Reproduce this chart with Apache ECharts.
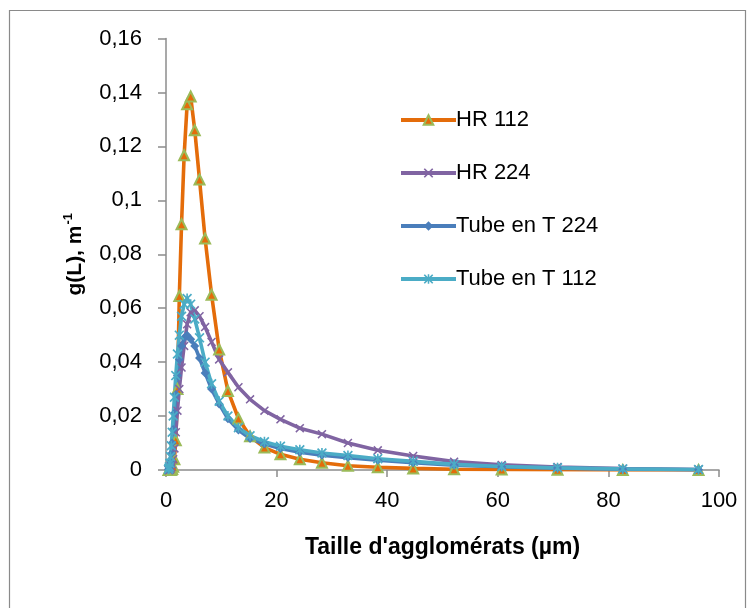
<!DOCTYPE html>
<html><head><meta charset="utf-8">
<script src="https://cdn.jsdelivr.net/npm/echarts@6/dist/echarts.min.js"></script>
<style>html,body{margin:0;padding:0;background:#fff}#c{width:753px;height:608px}</style>
</head><body><div id="c"></div>
<script>
const sizes = [0.45, 0.52, 0.60, 0.70, 0.82, 0.96, 1.12, 1.30, 1.52, 1.77, 2.07, 2.41, 2.81, 3.28, 3.82, 4.46, 5.20, 6.06, 7.07, 8.24, 9.61, 11.2, 13.1, 15.2, 17.8, 20.7, 24.2, 28.2, 32.9, 38.3, 44.7, 52.1, 60.7, 70.8, 82.6, 96.3];
const hr112 = [0, 0, 0, 0, 0, 0.0001, 0.0004, 0.0012, 0.004, 0.011, 0.03, 0.0645, 0.0911, 0.1167, 0.1356, 0.1385, 0.126, 0.1077, 0.0858, 0.065, 0.0447, 0.0293, 0.0191, 0.0125, 0.0083, 0.0058, 0.004, 0.0027, 0.0016, 0.0010, 0.0006, 0.0003, 0.0002, 0.0001, 0, 0];
const hr224 = [0, 0, 0, 0.0002, 0.0005, 0.001, 0.002, 0.004, 0.008, 0.014, 0.022, 0.030, 0.038, 0.046, 0.054, 0.0585, 0.0592, 0.057, 0.053, 0.0475, 0.041, 0.0362, 0.0307, 0.0262, 0.022, 0.0188, 0.0155, 0.0133, 0.0100, 0.0073, 0.0052, 0.0031, 0.0019, 0.0011, 0.0005, 0.0002];
const tube224 = [0.0002, 0.0004, 0.0008, 0.0016, 0.003, 0.006, 0.010, 0.015, 0.021, 0.028, 0.035, 0.041, 0.046, 0.049, 0.050, 0.0485, 0.046, 0.0415, 0.036, 0.030, 0.0245, 0.019, 0.0148, 0.0117, 0.0096, 0.008, 0.0066, 0.0055, 0.0046, 0.0036, 0.0027, 0.0018, 0.0012, 0.0007, 0.0003, 0.0001];
const tube112 = [0.0003, 0.0006, 0.0012, 0.0025, 0.005, 0.009, 0.014, 0.020, 0.027, 0.035, 0.043, 0.050, 0.057, 0.0615, 0.0636, 0.0615, 0.056, 0.049, 0.040, 0.032, 0.0255, 0.020, 0.0157, 0.0127, 0.0105, 0.0088, 0.0075, 0.0063, 0.0054, 0.0042, 0.0032, 0.0021, 0.0013, 0.0008, 0.0004, 0.0002];
const seriesNames = ['HR 112', 'HR 224', 'Tube en T 224', 'Tube en T 112'];
const xTitle = "Taille d'agglomérats (µm)";

const pairs = arr => sizes.map((x, i) => [x, arr[i]]);
const X_PATH = 'path://M0,1.2 L1.2,0 L5,3.8 L8.8,0 L10,1.2 L6.2,5 L10,8.8 L8.8,10 L5,6.2 L1.2,10 L0,8.8 L3.8,5 Z';
const AST_PATH = 'path://M0,1.2 L1.2,0 L5,3.8 L8.8,0 L10,1.2 L6.2,5 L10,8.8 L8.8,10 L5,6.2 L1.2,10 L0,8.8 L3.8,5 Z M4.2,0 L5.8,0 L5.8,10 L4.2,10 Z';
const font = 'Liberation Sans, Arial, sans-serif';
function mk(name, data, color, symbol, size, itemStyle) {
  return {
    name, type: 'line', data: pairs(data), symbol, symbolSize: size,
    lineStyle: { color, width: 3.6 },
    itemStyle: Object.assign({ color }, itemStyle || {}),
    emphasis: { disabled: true }, animation: false
  };
}
const chart = echarts.init(document.getElementById('c'), null, { renderer: 'canvas' });
chart.setOption({
  animation: false,
  backgroundColor: '#fff',
  graphic: [{ type: 'rect', shape: { x: 9.5, y: 10.5, width: 736, height: 640 }, style: { fill: 'none', stroke: '#8a8a8a', lineWidth: 1.2 }, silent: true }],
  grid: { left: 166, right: 34, top: 38.5, bottom: 138 },
  legend: {
    orient: 'vertical', left: 394, top: 104, itemGap: 31, itemWidth: 55, itemHeight: 12,
    data: seriesNames,
    lineStyle: { width: 4 },
    textStyle: { fontFamily: font, fontSize: 22, color: '#000', lineHeight: 22, padding: [0,0,0,-5] }
  },
  xAxis: {
    type: 'value', min: 0, max: 100, interval: 20,
    name: xTitle, nameLocation: 'middle', nameGap: 66,
    nameTextStyle: { fontFamily: font, fontSize: 23, fontWeight: 'bold', color: '#000' },
    axisLine: { lineStyle: { color: '#8c8c8c', width: 1.5 } },
    axisTick: { show: true, length: 7, lineStyle: { color: '#8c8c8c', width: 1.5 } },
    axisLabel: { fontFamily: font, fontSize: 22, color: '#000', margin: 20 },
    splitLine: { show: false }
  },
  yAxis: {
    type: 'value', min: 0, max: 0.16, interval: 0.02,
    name: '{n|g(L), m}{s|-1}', nameLocation: 'middle', nameGap: 80,
    nameTextStyle: { rich: {
      n: { fontFamily: font, fontSize: 21, fontWeight: 'bold', color: '#000', lineHeight: 24, verticalAlign: 'bottom' },
      s: { fontFamily: font, fontSize: 13, fontWeight: 'bold', color: '#000', lineHeight: 24, verticalAlign: 'top', padding: [0,0,10,1] }
    } },
    axisLine: { show: true, lineStyle: { color: '#8c8c8c', width: 1.5 } },
    axisTick: { show: true, length: 8, lineStyle: { color: '#8c8c8c', width: 1.5 } },
    axisLabel: { fontFamily: font, fontSize: 22, color: '#000', margin: 24,
      formatter: v => String(+v.toFixed(2)).replace('.', ',') },
    splitLine: { show: false }
  },
  series: [
    mk(seriesNames[0], hr112, '#E46C0A', 'triangle', 10, { color: '#E46C0A', borderColor: '#9BBB59', borderWidth: 2 }),
    mk(seriesNames[1], hr224, '#8064A2', X_PATH, 9),
    mk(seriesNames[2], tube224, '#4A7EBB', 'diamond', 9),
    mk(seriesNames[3], tube112, '#4BACC6', AST_PATH, 10)
  ]
});
</script></body></html>
